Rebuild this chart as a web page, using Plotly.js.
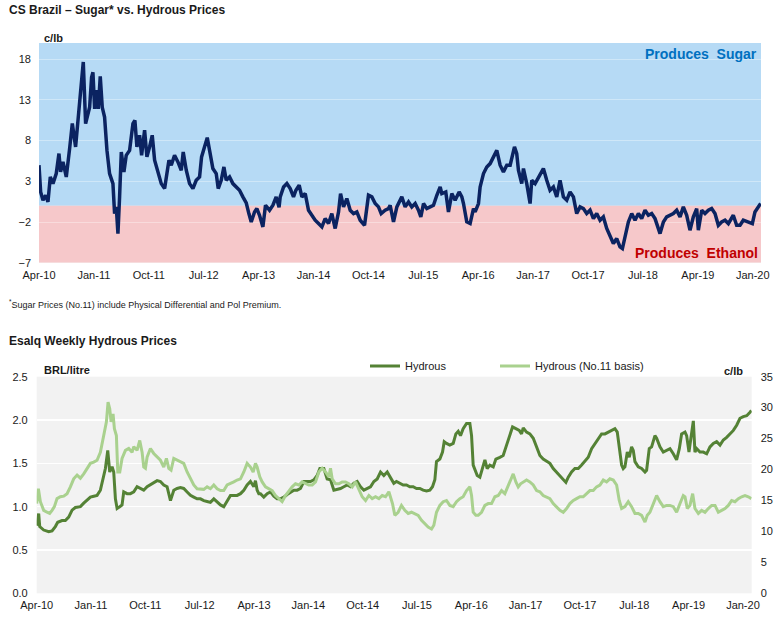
<!DOCTYPE html>
<html>
<head>
<meta charset="utf-8">
<script src="https://cdn.plot.ly/plotly-3.0.1.min.js"></script>
<style>html,body{margin:0;padding:0;background:#fff;}#chart{width:783px;height:625px;}</style>
</head>
<body>
<div id="chart"></div>
<script>
// ---------- DATA (x = months since Apr-2010) ----------
const tickMonths = [0, 9, 18, 27, 36, 45, 54, 63, 72, 81, 90, 99, 108, 117];
const tickLabels = ['Apr-10','Jan-11','Oct-11','Jul-12','Apr-13','Jan-14','Oct-14','Jul-15','Apr-16','Jan-17','Oct-17','Jul-18','Apr-19','Jan-20'];

// Top chart: Sugar (No.11 incl. differential & pol premium) minus Hydrous, c/lb
const sugarMonths = [
 0,0.27,0.65,1.09,1.47,1.85,2.29,2.83,3.27,3.54,
 3.93,4.47,5.02,5.46,6.00,6.38,6.77,7.26,7.64,8.02,
 8.30,8.62,8.84,9.12,9.44,9.72,10.04,10.37,10.75,11.14,
 11.57,12.12,12.39,12.67,12.94,13.21,13.49,13.92,14.30,14.85,
 15.40,15.72,16.05,16.49,16.82,17.31,17.69,18.13,18.56,18.95,
 19.49,20.04,20.59,20.97,21.30,21.68,22.22,22.77,23.32,23.64,
 24.14,24.68,25.23,25.77,26.32,26.65,27.14,27.58,27.96,28.50,
 29.05,29.38,29.87,30.31,30.69,31.24,31.78,32.33,32.87,33.42,
 33.97,34.40,34.79,35.33,35.71,36.15,36.70,37.13,37.79,38.34,
 38.88,39.35,39.54,40.09,40.63,41.18,41.72,42.11,42.65,43.09,
 43.64,44.18,44.73,45.27,45.82,46.37,46.91,47.46,48.00,48.55,
 49.10,49.43,49.92,50.46,51.01,51.56,52.10,52.65,53.36,54.01,
 54.56,55.11,55.65,56.09,56.74,57.29,57.56,58.11,58.66,59.47,
 60.02,60.57,61.11,61.66,62.20,62.59,63.03,63.57,64.12,64.66,
 65.21,65.76,66.03,66.68,67.12,67.67,68.21,68.87,69.31,69.58,
 70.12,70.67,71.22,71.49,72.04,72.31,72.86,73.40,73.95,74.50,
 75.04,75.59,76.13,76.68,77.23,77.94,78.31,78.59,79.13,79.41,
 79.95,80.50,80.77,81.32,81.86,82.68,83.23,83.77,84.32,84.87,
 85.41,85.96,86.51,87.05,87.60,88.14,88.69,89.24,89.78,90.33,
 90.88,91.42,91.97,92.51,93.06,93.61,94.15,94.70,95.24,95.63,
 96.06,96.61,97.16,97.70,98.25,98.79,99.34,99.89,100.43,100.98,
 101.80,102.35,102.89,103.44,103.98,104.53,105.08,105.62,106.17,106.71,
 107.26,107.81,108.08,108.63,109.17,109.72,110.26,110.81,111.36,111.90,
 112.45,113.00,113.81,114.36,114.91,115.45,116.27,116.93,117.36,117.91,118.29
];
const sugarValues = [
 4.98,1.70,0.68,1.29,0.47,3.54,2.72,3.95,6.41,4.16,
 5.39,3.54,7.02,10.1,7.23,10.5,12.96,17.67,10.1,11.1,
 12.1,15.8,16.4,11.9,14.2,11.9,15.9,12.1,10.9,6.8,
 3.95,2.72,-0.96,-0.14,-3.42,1.09,6.61,4.16,6.2,6.8,
 10.1,10.5,7.23,8.66,6.2,9.28,6.0,7.23,8.66,5.59,
 4.16,2.72,2.11,3.75,5.59,4.98,6.2,5.39,4.36,6.61,
 4.36,2.72,2.11,3.13,3.54,6.0,7.23,8.37,6.8,4.57,
 3.95,2.11,3.13,4.77,3.13,3.54,2.72,2.31,1.90,1.09,
 0.35,-0.96,-1.99,-0.76,-0.35,-1.17,-2.6,0.06,-0.55,0.06,
 1.09,-0.2,1.09,2.31,2.72,2.11,1.09,1.90,2.52,1.09,
 1.49,-0.55,-1.17,-1.78,-2.19,-2.6,-1.58,-2.19,-0.96,-2.8,
 -0.76,1.49,-0.14,0.88,-0.55,-0.96,-0.76,-1.78,-2.4,1.29,
 1.09,0.27,-0.14,-0.96,-0.55,-0.35,0.06,-1.99,-0.14,1.09,
 -0.14,0.47,-0.14,0.27,-0.55,-1.37,0.27,-0.35,-0.14,0.06,
 1.29,2.31,1.49,1.70,-0.76,1.49,0.68,1.70,1.09,0.27,
 -1.99,-2.19,-0.35,-0.76,0.27,2.31,3.95,4.77,5.18,6.0,
 6.8,4.98,4.16,4.98,4.98,7.23,6.41,4.36,2.72,4.57,
 2.72,0.27,3.13,2.72,3.54,4.57,3.13,1.90,2.31,1.09,
 3.13,1.09,0.68,1.70,1.09,-0.96,-0.14,-0.35,-0.96,-0.55,
 -1.58,-0.96,-1.78,-1.37,-2.8,-3.83,-4.65,-4.03,-5.06,-5.26,
 -3.83,-1.99,-0.96,-1.78,-0.96,-1.58,-0.55,-1.17,-0.96,-1.58,
 -3.42,-1.99,-1.37,-1.17,-0.96,-0.55,-1.37,-0.14,-1.17,-3.01,
 -1.37,-0.35,-3.01,-0.55,-0.96,-0.55,-0.35,-0.96,-2.4,-1.99,
 -1.78,-2.19,-1.17,-2.4,-2.4,-1.78,-1.99,-2.19,-0.76,-0.14,0.27
];

// Bottom chart: Esalq Hydrous, BRL/litre (left axis)
const hydrousMonths = [
 0,0.33,0.50,1.16,1.99,2.54,3.09,3.48,4.20,4.75,
 5.30,5.86,6.41,7.24,7.79,8.34,8.90,9.45,10.00,10.55,
 10.99,11.38,11.77,12.10,12.49,12.76,13.04,13.32,13.76,14.14,
 14.42,14.97,15.52,16.08,16.63,17.18,17.73,18.29,19.12,19.95,
 20.50,21.05,21.60,21.88,22.16,22.71,23.26,23.81,24.36,24.92,
 25.47,26.02,26.57,27.13,27.68,28.23,28.78,29.34,29.89,30.44,
 30.99,31.55,32.10,32.65,33.20,33.76,34.31,34.86,35.41,35.97,
 36.24,36.52,36.80,37.07,37.62,38.18,38.73,39.28,39.83,40.39,
 40.94,41.49,42.04,42.60,43.15,43.70,44.25,44.81,45.36,45.91,
 46.46,46.91,47.57,48.12,48.67,49.23,49.78,50.33,50.88,51.44,
 51.99,52.54,53.09,53.65,54.20,54.75,55.30,55.86,56.41,56.96,
 57.51,58.07,58.62,
 58.78,59.16,59.60,60.16,60.71,61.26,61.81,62.37,62.92,63.47,
 64.02,64.58,65.13,65.57,65.96,66.23,66.79,67.23,67.51,67.89,
 68.44,69.00,69.44,69.83,70.21,70.65,71.21,71.76,72.04,72.31,
 72.59,72.98,73.42,73.86,74.25,74.63,75.07,75.63,76.07,76.73,
 77.28,77.84,78.39,78.83,79.38,79.94,80.32,80.60,81.15,81.70,
 82.26,82.81,83.36,83.91,84.47,85.02,85.57,86.12,86.68,87.23,
 87.67,88.06,88.61,89.16,89.72,90.27,90.82,91.37,91.93,92.48,
 93.03,93.58,94.14,94.69,95.24,95.79,96.18,96.51,96.90,97.17,
 97.45,97.84,98.17,98.55,98.83,99.11,99.66,100.21,100.77,101.04,
 101.48,101.87,102.42,102.70,103.25,103.80,104.36,104.91,105.46,106.01,
 106.46,106.84,107.40,107.67,108.06,108.39,108.78,109.05,109.33,109.88,
 110.43,110.99,111.54,112.09,112.64,113.20,113.75,114.30,114.85,115.41,
 115.96,116.51,117.06,117.62,118.17,118.40
];
const hydrousValues = [
 0.78,0.92,0.77,0.73,0.71,0.72,0.77,0.82,0.84,0.84,
 0.88,0.96,0.99,1.00,1.04,1.07,1.11,1.12,1.13,1.19,
 1.32,1.44,1.65,1.40,1.46,1.40,1.09,0.98,1.00,1.02,
 1.17,1.15,1.15,1.17,1.23,1.21,1.19,1.23,1.27,1.30,
 1.29,1.25,1.23,1.13,1.07,1.19,1.21,1.22,1.21,1.17,
 1.13,1.11,1.09,1.09,1.07,1.06,1.05,1.09,1.05,1.02,
 1.00,1.07,1.13,1.13,1.13,1.15,1.19,1.25,1.29,1.23,
 1.30,1.19,1.15,1.15,1.11,1.15,1.17,1.12,1.09,1.09,
 1.11,1.14,1.17,1.19,1.19,1.21,1.29,1.29,1.29,1.31,
 1.36,1.44,1.44,1.32,1.31,1.19,1.20,1.21,1.23,1.25,
 1.23,1.27,1.29,1.23,1.19,1.21,1.23,1.29,1.32,1.40,
 1.36,1.40,1.34,
 1.32,1.27,1.29,1.27,1.25,1.25,1.23,1.23,1.21,1.21,
 1.19,1.18,1.19,1.23,1.31,1.52,1.55,1.63,1.75,1.73,
 1.71,1.73,1.84,1.87,1.82,1.90,1.96,1.96,1.82,1.48,
 1.42,1.36,1.34,1.44,1.54,1.44,1.48,1.46,1.55,1.57,
 1.59,1.71,1.82,1.92,1.90,1.88,1.84,1.91,1.86,1.84,
 1.79,1.69,1.59,1.55,1.52,1.50,1.44,1.40,1.36,1.31,
 1.28,1.34,1.40,1.44,1.44,1.48,1.52,1.57,1.67,1.73,
 1.79,1.84,1.84,1.86,1.88,1.90,1.86,1.67,1.48,1.44,
 1.46,1.63,1.57,1.69,1.65,1.52,1.46,1.44,1.40,1.42,
 1.67,1.69,1.82,1.79,1.69,1.63,1.65,1.67,1.61,1.54,
 1.67,1.84,1.86,1.82,1.63,1.79,1.99,1.63,1.67,1.63,
 1.63,1.61,1.69,1.73,1.75,1.71,1.77,1.80,1.84,1.88,
 1.94,2.02,2.04,2.05,2.09,2.11
];

// Bottom chart: Hydrous (No.11 basis), c/lb (right axis)
const basisMonths = [
 0,0.28,0.61,0.88,1.16,1.71,2.15,2.54,2.93,3.37,
 3.92,4.48,5.03,5.58,6.13,6.69,7.24,7.79,8.34,8.90,
 9.45,10.00,10.55,11.10,11.55,11.82,12.10,12.32,12.65,12.87,
 13.20,13.43,13.76,14.14,14.70,15.25,15.80,16.08,16.63,17.07,
 17.46,17.73,18.01,18.29,18.84,19.39,19.95,20.50,21.05,21.49,
 21.88,22.26,22.71,23.26,23.81,24.36,24.92,25.47,26.02,26.57,
 27.13,27.68,28.23,28.78,29.34,29.89,30.44,30.99,31.55,32.10,
 32.65,33.20,33.76,34.31,34.86,35.41,35.86,36.24,36.52,36.96,
 37.35,37.90,38.45,39.01,39.56,40.11,40.66,41.22,41.77,42.32,
 42.87,43.43,43.98,44.53,45.08,45.64,46.19,46.74,47.29,47.85,
 48.40,48.67,48.95,49.50,50.06,50.61,51.16,51.71,52.27,52.82,
 53.37,53.92,54.48,55.03,55.58,56.13,56.69,57.24,57.79,58.34,
 58.94,59.33,59.88,60.43,60.99,61.54,62.09,62.64,63.20,63.75,
 64.30,64.85,65.41,65.79,66.23,66.79,67.34,67.89,68.44,69.00,
 69.55,70.10,70.65,71.21,71.76,72.04,72.31,72.75,73.14,73.69,
 74.25,74.80,75.35,75.90,76.46,77.01,77.56,78.11,78.50,78.94,
 79.38,79.77,80.16,80.60,81.15,81.70,82.26,82.81,83.36,83.91,
 84.47,85.02,85.57,86.12,86.68,87.23,87.78,88.33,88.90,89.44,
 89.99,90.54,91.10,91.65,92.20,92.75,93.31,93.86,94.41,94.96,
 95.52,96.07,96.51,96.90,97.45,98.00,98.55,99.11,99.66,100.21,
 100.77,101.15,101.59,102.15,102.70,103.25,103.80,104.36,104.91,105.46,
 106.01,106.57,107.12,107.40,107.78,108.22,108.67,109.05,109.61,110.16,
 110.71,111.26,111.82,112.37,112.92,113.47,114.03,114.58,115.13,115.68,
 116.24,116.79,117.34,117.89,118.40
];
const basisValues = [
 14.5,16.9,14.8,14.2,13.4,13.1,12.9,13.4,14.0,15.3,
 15.6,15.7,16.1,17.2,18.5,19.1,18.6,19.3,20.2,21.0,
 21.2,21.5,22.8,25.5,27.7,30.9,29.8,27.7,29.0,26.6,
 25.5,19.6,19.6,21.8,23.1,23.4,22.8,23.7,23.1,24.7,
 22.8,20.4,20.2,22.0,23.4,22.6,22.0,21.5,20.4,21.8,
 20.2,19.9,21.8,21.5,21.2,21.0,19.6,18.5,17.5,16.9,
 16.9,16.8,17.2,16.9,17.5,16.9,16.6,16.6,17.5,17.7,
 18.0,18.3,18.5,19.6,21.0,20.4,19.6,21.0,20.4,18.8,
 18.0,17.2,16.9,16.6,15.8,15.3,14.8,15.8,16.6,17.2,
 17.7,17.5,18.0,17.7,17.5,17.5,18.0,19.6,20.2,19.6,
 18.8,20.2,18.5,17.7,17.7,18.0,18.0,17.7,17.2,18.0,
 16.9,15.6,15.0,15.8,15.3,15.6,15.3,15.8,15.6,16.4,
 14.5,12.6,13.1,14.2,13.4,12.9,13.1,12.9,12.6,11.8,
 11.3,10.7,10.4,11.0,13.1,14.2,14.8,15.0,14.2,14.0,
 14.8,15.3,15.6,16.6,17.2,15.8,13.1,12.6,12.6,13.1,
 14.2,14.5,14.5,15.6,15.8,16.6,16.1,17.5,18.3,19.3,
 18.0,17.2,17.7,18.0,18.3,18.0,17.5,16.6,16.4,15.8,
 15.6,15.3,14.5,14.0,13.4,13.1,13.7,14.5,15.0,15.3,
 15.6,15.6,16.1,16.6,16.6,17.2,17.5,18.3,18.0,18.5,
 18.3,17.5,15.0,13.7,14.0,14.8,14.0,12.9,12.9,12.6,
 11.5,12.6,13.1,14.5,15.8,14.8,14.0,14.2,14.2,14.0,
 13.1,14.5,15.8,15.6,13.7,14.2,16.1,13.7,12.9,13.4,
 13.1,13.7,14.2,14.2,13.1,13.4,13.7,14.2,15.0,14.8,
 15.3,15.6,15.8,15.6,15.3
];

// ---------- STYLE ----------
const FONT = 'Liberation Sans, Arial, sans-serif';
const W = 783, H = 625;
const px = v => v / W;          // paper x from pixels
const py = v => 1 - v / H;      // paper y from pixels
const TXT = '#1a1a1a';

const traces = [
  { x: sugarMonths, y: sugarValues, xaxis: 'x', yaxis: 'y', type: 'scatter', mode: 'lines',
    line: { color: '#0b2361', width: 3.5 }, showlegend: false, hoverinfo: 'skip' },
  { x: hydrousMonths, y: hydrousValues, xaxis: 'x2', yaxis: 'y2', type: 'scatter', mode: 'lines',
    name: 'Hydrous', line: { color: '#548235', width: 3 }, legend: 'legend' },
  { x: basisMonths, y: basisValues, xaxis: 'x2', yaxis: 'y3', type: 'scatter', mode: 'lines',
    name: 'Hydrous (No.11 basis)', line: { color: '#a9d18e', width: 3 }, legend: 'legend2' }
];

const tickFont = { family: FONT, size: 11, color: TXT };
const xCommon = {
  tickmode: 'array', tickvals: tickMonths, ticktext: tickLabels,
  showgrid: false, zeroline: false, showline: false, ticks: '',
  tickfont: tickFont, ticklabelstandoff: 4, fixedrange: true
};
const legendCommon = {
  orientation: 'h', xanchor: 'left', y: py(366), yanchor: 'middle',
  font: { family: FONT, size: 11, color: TXT }, bgcolor: 'rgba(0,0,0,0)', itemwidth: 30
};

const layout = {
  width: W, height: H,
  margin: { l: 0, r: 0, t: 0, b: 0 },
  paper_bgcolor: '#ffffff',
  plot_bgcolor: '#F2F2F2',
  font: { family: FONT, size: 11, color: TXT },
  showlegend: true,
  legend: Object.assign({}, legendCommon, { x: px(365) }),
  legend2: Object.assign({}, legendCommon, { x: px(495) }),
  xaxis: Object.assign({}, xCommon, { domain: [px(39), px(761)], anchor: 'y', range: [0, 118.35] }),
  yaxis: {
    domain: [py(262.7), py(43)], anchor: 'x', range: [-7, 20],
    tickmode: 'linear', tick0: -7, dtick: 5,
    showgrid: true, gridcolor: 'rgba(255,255,255,0.35)', gridwidth: 1,
    zeroline: false, showline: false, ticks: '', tickfont: tickFont, ticklabelstandoff: 7, fixedrange: true
  },
  xaxis2: Object.assign({}, xCommon, { domain: [px(36.7), px(751.7)], anchor: 'y2', range: [0, 118.45] }),
  yaxis2: {
    domain: [py(593.3), py(376.7)], anchor: 'x2', range: [0, 2.5],
    tickmode: 'linear', tick0: 0, dtick: 0.5, tickformat: '.1f',
    showgrid: true, gridcolor: '#ffffff', gridwidth: 1.5,
    zeroline: false, showline: false, ticks: '', tickfont: tickFont, ticklabelstandoff: 8, fixedrange: true
  },
  yaxis3: {
    overlaying: 'y2', side: 'right', anchor: 'x2', range: [0, 35],
    tickmode: 'linear', tick0: 0, dtick: 5,
    showgrid: false, zeroline: false, showline: false, ticks: '', tickfont: tickFont, ticklabelstandoff: 8, fixedrange: true
  },
  shapes: [
    { type: 'rect', xref: 'x domain', yref: 'y', x0: 0, x1: 1, y0: 0, y1: 20,
      fillcolor: '#B6DAF5', line: { width: 0 }, layer: 'below' },
    { type: 'rect', xref: 'x domain', yref: 'y', x0: 0, x1: 1, y0: -7, y1: 0,
      fillcolor: '#F6C8CA', line: { width: 0 }, layer: 'below' }
  ],
  annotations: [
    { text: '<b>CS Brazil – Sugar* vs. Hydrous Prices</b>', xref: 'paper', yref: 'paper',
      x: px(7), y: py(10), xanchor: 'left', yanchor: 'middle', showarrow: false,
      font: { family: FONT, size: 12, color: TXT } },
    { text: '<b>c/lb</b>', xref: 'paper', yref: 'paper', x: px(42), y: py(38),
      xanchor: 'left', yanchor: 'middle', showarrow: false, font: { family: FONT, size: 11, color: TXT } },
    { text: '<b>Produces \u00a0Sugar</b>', xref: 'paper', yref: 'paper', x: px(759), y: py(54),
      xanchor: 'right', yanchor: 'middle', showarrow: false, font: { family: FONT, size: 14, color: '#0070C0' } },
    { text: '<b>Produces \u00a0Ethanol</b>', xref: 'paper', yref: 'paper', x: px(760), y: py(253),
      xanchor: 'right', yanchor: 'middle', showarrow: false, font: { family: FONT, size: 14, color: '#C00000' } },
    { text: '<sup>*</sup>Sugar Prices (No.11) include Physical Differential and Pol Premium.', xref: 'paper', yref: 'paper',
      x: px(7), y: py(304), xanchor: 'left', yanchor: 'middle', showarrow: false,
      font: { family: FONT, size: 9, color: TXT } },
    { text: '<b>Esalq Weekly Hydrous Prices</b>', xref: 'paper', yref: 'paper',
      x: px(7), y: py(341), xanchor: 'left', yanchor: 'middle', showarrow: false,
      font: { family: FONT, size: 12, color: TXT } },
    { text: '<b>BRL/litre</b>', xref: 'paper', yref: 'paper', x: px(42), y: py(370),
      xanchor: 'left', yanchor: 'middle', showarrow: false, font: { family: FONT, size: 11, color: TXT } },
    { text: '<b>c/lb</b>', xref: 'paper', yref: 'paper', x: px(722), y: py(371),
      xanchor: 'left', yanchor: 'middle', showarrow: false, font: { family: FONT, size: 11, color: TXT } }
  ]
};

Plotly.newPlot('chart', traces, layout, { displayModeBar: false, staticPlot: true });
</script>
</body>
</html>
